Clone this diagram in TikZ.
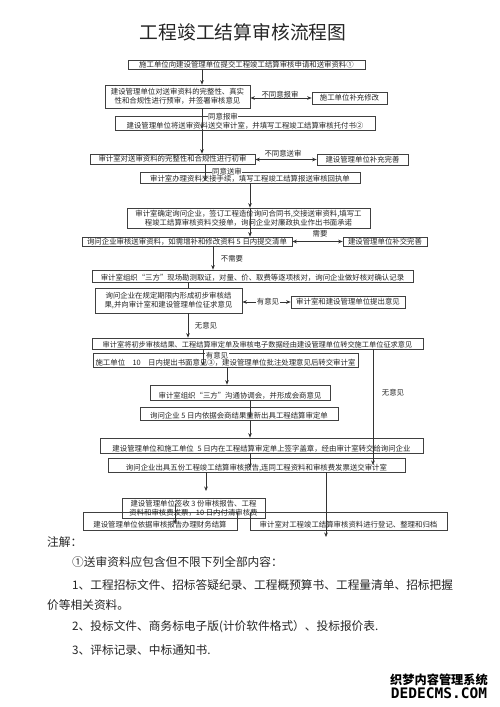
\documentclass[tikz,border=0pt]{standalone}
\usepackage{fontspec}
\setmainfont{Noto Sans CJK SC}
\newfontfamily\wmmono{DejaVu Sans Mono}
\usetikzlibrary{arrows.meta}
\newcommand{\bxf}{\fontsize{7.4}{9}\selectfont}
\newcommand{\ntf}{\fontsize{11.7}{14}\selectfont}
\tikzset{
  box/.style={draw=black!75, line width=0.7pt, inner sep=0pt, font=\bxf, align=center, text=black!85},
  lowt/.style={text height=#1, text depth=1pt},
  lbl/.style={inner sep=0.5pt, font=\bxf, text=black!85},
  arr/.style={-{Stealth[length=4.5pt,width=3.6pt]}, line width=0.7pt, draw=black!80},
  darr/.style={{Stealth[length=4.5pt,width=3.6pt]}-{Stealth[length=4.5pt,width=3.6pt]}, line width=0.7pt, draw=black!80},
  ln/.style={line width=0.7pt, draw=black!80},
  note/.style={anchor=west, inner sep=0pt, font=\ntf, text=black!85}
}
\begin{document}
\begin{tikzpicture}[x=1pt,y=-1pt]
\useasboundingbox[fill=white] (0,0) rectangle (500,707);

\node[font=\fontsize{18.8}{20}\selectfont, text=black!85] (title) at (243,32) {工程竣工结算审核流程图};

% boxes
\node[box, minimum width=237, minimum height=9] (b1) at (246.5,64.5) {施工单位向建设管理单位提交工程竣工结算审核申请和送审资料①};
\node[box, minimum width=145, minimum height=23] (b2) at (177.5,96.5) {建设管理单位对送审资料的完整性、真实\\性和合规性进行预审，并签署审核意见};
\node[box, minimum width=75, minimum height=12] (b2r) at (349.5,98) {施工单位补充修改};
\node[box, lowt=12.5pt, minimum width=260, minimum height=14] (b3a) at (245,123) {建设管理单位将送审资料送交审计室，并填写工程竣工结算审核托付书②};
\node[box, minimum width=165, minimum height=10] (b3) at (172.5,159) {审计室对送审资料的完整性和合规性进行初审};
\node[box, minimum width=91, minimum height=11] (b3r) at (362.5,159.5) {建设管理单位补充完善};
\node[box, lowt=9.5pt, minimum width=220, minimum height=11] (b3b) at (250,177.5) {审计室办理资料交接手续，填写工程竣工结算报送审核回执单};
\node[box, minimum width=243, minimum height=20] (b4) at (248.5,218) {审计室确定询问企业，签订工程造价询问合同书,交接送审资料,填写工\\程竣工结算审核资料交接单，询问企业对廉政执业作出书面承诺};
\node[box, minimum width=210, minimum height=9] (b5) at (187,241.5) {询问企业审核送审资料，如需增补和修改资料 5 日内提交清单};
\node[box, minimum width=84, minimum height=9] (b5r) at (385,241.5) {建设管理单位补交完善};
\node[box, lowt=9.5pt, minimum width=321, minimum height=12] (b6) at (252.5,276) {审计室组织“三方”现场勘测取证，对量、价、取费等逐项核对，询问企业做好核对确认记录};
\node[box, minimum width=147, minimum height=25] (b7) at (168.5,300.5) {询问企业在规定期限内形成初步审核结\\果,并向审计室和建设管理单位征求意见};
\node[box, minimum width=114, minimum height=12] (b7r) at (348,302) {审计室和建设管理单位提出意见};
\node[box, lowt=8.5pt, minimum width=331, minimum height=11, font=\fontsize{7.2}{9}\selectfont] (b8) at (257.5,343.5) {审计室将初步审核结果、工程结算审定单及审核电子数据经由建设管理单位转交施工单位征求意见};
\node[box, lowt=12.5pt, minimum width=265, minimum height=14] (b9) at (225.5,360) {施工单位\quad 10\quad 日内提出书面意见③，建设管理单位批注处理意见后转交审计室};
\node[box, lowt=12.5pt, minimum width=180, minimum height=15] (b10) at (240,392.5) {审计室组织“三方”沟通协调会，并形成会商意见};
\node[box, lowt=10.5pt, minimum width=198, minimum height=13] (b11) at (239,413.5) {询问企业 5 日内依据会商结果重新出具工程结算审定单};
\node[box, lowt=13pt, minimum width=323, minimum height=15] (b12) at (261.5,445.5) {建设管理单位和施工单位\enspace 5 日内在工程结算审定单上签字盖章，经由审计室转交给询问企业};
\node[box, lowt=12pt, minimum width=297, minimum height=14] (b13) at (256.5,465) {询问企业出具五份工程竣工结算审核报告,连同工程资料和审核费发票送交审计室};
\node[box, lowt=14pt, minimum width=154, minimum height=18] (b15) at (160,521) {建设管理单位依据审核报告办理财务结算};
\node[box, minimum width=143, minimum height=20] (b14) at (193.5,508) {建设管理单位签收 3 份审核报告、工程\\资料和审核费发票，10 日内付清审核费};
\node[box, lowt=14pt, minimum width=197, minimum height=18] (b16) at (348.5,521) {审计室对工程竣工结算审核资料进行登记、整理和归档};

% column coordinates
\coordinate (x175) at (175,0);
\coordinate (x188) at (188,0);
\coordinate (x202) at (202,0);
\coordinate (x203) at (203,0);
\coordinate (x205) at (205,0);
\coordinate (x206) at (206,0);
\coordinate (x213) at (213,0);
\coordinate (x227) at (227,0);
\coordinate (x250) at (250,0);
\coordinate (x326) at (326,0);
\coordinate (x373) at (373,0);
% free ends
\coordinate (m1) at (202,129);
\coordinate (m2) at (205,181);
\coordinate (m3) at (203,366);
\coordinate (m4) at (250,418);
\coordinate (m5) at (250,468);
\coordinate (m6) at (373,465);
\coordinate (m7) at (206,491);
\coordinate (m8) at (175,504);
\coordinate (m9) at (175,524);
\coordinate (m10) at (326,537);

% vertical connectors
\draw[arr] (b1.south -| x202) -- (b2.north -| x202);
\draw[arr] (b2.south -| x202) -- (m1);
\draw[arr] (m1) -- (b3.north -| x202);
\draw[arr] (b3.south -| x205) -- (m2);
\draw[arr] (b3b.south -| x250) -- (b4.north -| x250);
\draw[arr] (b4.north -| x250) -- (b5.north -| x250);
\draw[arr] (b5.south -| x213) -- (b6.north -| x213);
\draw[ln] (b6.south -| x188) -- (b7.north -| x188);
\draw[arr] (b7.south -| x188) -- (b8.north -| x188);
\draw[arr] (b8.south -| x203) -- (m3);
\draw[arr] (b8.south -| x373) -- (m6);
\draw[arr] (b9.south -| x227) -- (b10.north -| x227);
\draw[arr] (b10.south -| x250) -- (m4);
\draw[arr] (b11.south -| x250) -- (b12.north -| x250);
\draw[arr] (b12.south -| x250) -- (m5);
\draw[arr] (b13.south -| x206) -- (m7);
\draw[arr] (b13.south -| x326) -- (m10);
\draw[arr] (m8) -- (m9);

% horizontal double arrows
\draw[darr] (b2r.west -| b2.east) -- (b2r.west);
\draw[darr] (b3r.west -| b3.east) -- (b3r.west);
\draw[darr] (b5r.west -| b5.east) -- (b5r.west);
\draw[darr] (b7r.west -| b7.east) -- (b7r.west);

% labels
\node[lbl, anchor=south] (l1) at (280,98.5) {不同意报审};
\node[lbl, fill=white] (l2) at (223,116.5) {同意报审};
\node[lbl, anchor=south] (l3) at (283,157.5) {不同意送审};
\node[lbl, fill=white] (l4) at (227,171.3) {同意送审};
\node[lbl, anchor=south] (l5) at (320,238) {需要};
\node[lbl] (l6) at (232,259) {不需要};
\node[lbl, fill=white] (l7) at (268,301.5) {有意见};
\node[lbl] (l8) at (206,326) {无意见};
\node[lbl, fill=white] (l9) at (217,355.3) {有意见};
\node[lbl] (l10) at (393,393) {无意见};

% notes
\node[note] (n0) at (47,542) {注解：};
\node[note] (n1) at (72,562) {①送审资料应包含但不限下列全部内容：};
\node[note] (n2) at (72,585) {1、工程招标文件、招标答疑纪录、工程概预算书、工程量清单、招标把握};
\node[note] (n3) at (47,605) {价等相关资料。};
\node[note] (n4) at (72,627) {2、投标文件、商务标电子版(计价软件格式）、投标报价表.};
\node[note] (n5) at (72,650) {3、评标记录、中标通知书.};

% watermark
\node[inner sep=0pt, font=\fontsize{12.2}{13}\selectfont\bfseries] (w1) at (439,680) {织梦内容管理系统};
\node[inner sep=0pt, font=\wmmono\fontsize{14.5}{15}\selectfont\bfseries] (w2) at (439,693) {DEDECMS.COM};
\end{tikzpicture}
\end{document}
